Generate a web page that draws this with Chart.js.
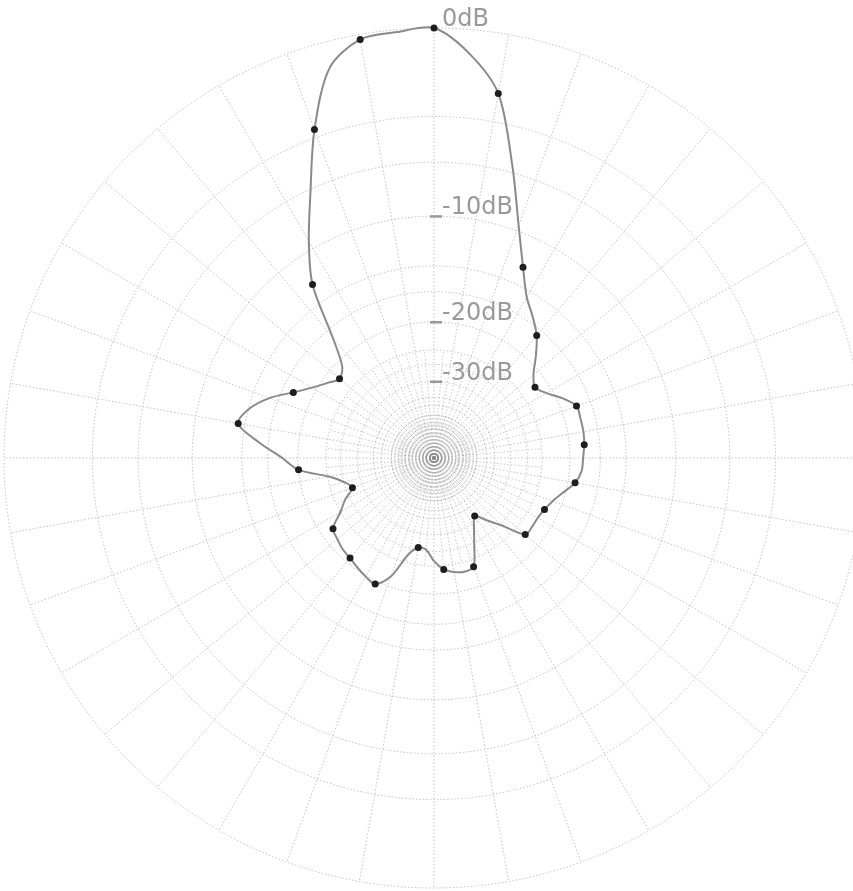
<!DOCTYPE html>
<html>
<head>
<meta charset="utf-8">
<script src="https://cdn.jsdelivr.net/npm/chart.js@4.4.1/dist/chart.umd.min.js"></script>
<style>
  html, body { margin: 0; padding: 0; background: #fff; overflow: hidden; }
  #wrap { width: 868px; height: 891px; }
</style>
</head>
<body>
<div id="wrap"><canvas id="pattern"></canvas></div>
<script>
// ── Data ────────────────────────────────────────────────────────────────────
// bearing of each sample, degrees clockwise from the top
const ANGLES = [
    0,   5,  10,  15,  20,  25,  30,  35,  40,  45,  50,  55,
   60,  65,  70,  75,  80,  85,  90,  95, 100, 105, 110, 115,
  120, 125, 130, 135, 140, 145, 150, 155, 160, 165, 170, 175,
  180, 185, 190, 195, 200, 205, 210, 215, 220, 225, 230, 235,
  240, 245, 250, 255, 260, 265, 270, 275, 280, 285, 290, 295,
  300, 305, 310, 315, 320, 325, 330, 335, 340, 345, 350, 355,
];

// relative level (dB) at each bearing
const LEVEL_DB = [
    0.0,  -1.0,  -2.6,  -6.1,  -9.6, -12.4, -14.6, -15.9, -17.2, -19.0, -20.8, -21.7,
  -20.8, -19.3, -18.1, -18.1, -18.1, -18.2, -18.4, -18.5, -19.1, -20.3, -21.3, -21.9,
  -22.2, -22.2, -22.3, -26.2, -29.0, -31.3, -29.2, -26.2, -22.8, -22.5, -22.8, -23.4,
  -24.8, -26.8, -27.0, -25.3, -21.3, -19.6, -19.9, -20.3, -20.7, -20.9, -21.3, -21.7,
  -24.0, -25.7, -27.8, -26.6, -24.2, -20.0, -18.1, -15.6, -13.4, -14.1, -15.6, -17.7,
  -19.4, -20.7, -21.7, -20.8, -17.4, -12.3,  -9.4,  -6.7,  -3.6,  -1.1,  -0.2,  -0.1,
];

// bearings where a measured point is inked on the trace
const MARKER_DEG = [0, 10, 25, 40, 55, 70, 85, 100, 115, 130, 145, 160, 175,
                    190, 205, 220, 235, 250, 265, 280, 295, 310, 325, 340, 350];

// grid rings and labelled rings (dB)
const RING_DB  = [0, -4, -6.5, -10, -14, -16.5, -20, -24, -26.5, -30, -34, -36.5, -40, -44, -46.5, -50];
const LABEL_DB = [0, -10, -20, -30];

// ── Style ───────────────────────────────────────────────────────────────────
const GRID_COLOR  = 'rgba(135,135,135,.55)';
const TRACE_COLOR = '#8a8a8a';
const LABEL_COLOR = '#9a9a9a';

// the paper uses a log radius: 10 dB shrinks the radius by 10^(1/4)
const toRadius = db => Math.pow(10, db / 40);

// ── Plugins ─────────────────────────────────────────────────────────────────
const innerSpokes = {
  id: 'innerSpokes',
  beforeDatasetsDraw(chart) {
    const s = chart.scales.r, ctx = chart.ctx;
    ctx.save();
    ctx.strokeStyle = GRID_COLOR;
    ctx.lineWidth = 0.8;
    ctx.setLineDash([1.5, 2]);
    // finer spokes only near the centre, like the printed paper
    [[5, -24], [2.5, -40]].forEach(([step, db]) => {
      const len = s.getDistanceFromCenterForValue(toRadius(db));
      for (let a = 0; a < 360; a += step) {
        if (a % 10 === 0) continue;
        const rad = (a - 90) * Math.PI / 180;
        ctx.beginPath();
        ctx.moveTo(s.xCenter, s.yCenter);
        ctx.lineTo(s.xCenter + Math.cos(rad) * len, s.yCenter + Math.sin(rad) * len);
        ctx.stroke();
      }
    });
    ctx.restore();
  },
};

const dbLabels = {
  id: 'dbLabels',
  afterDraw(chart) {
    const s = chart.scales.r, ctx = chart.ctx;
    ctx.save();
    ctx.font = '24px "DejaVu Sans"';
    ctx.fillStyle = LABEL_COLOR;
    ctx.textAlign = 'left';
    ctx.textBaseline = 'alphabetic';
    LABEL_DB.forEach(db => {
      const y = s.yCenter - s.getDistanceFromCenterForValue(toRadius(db));
      ctx.fillText(db + 'dB', s.xCenter + 8, y - 2);
      if (db !== 0) ctx.fillRect(s.xCenter - 4, y - 1, 12, 2.5);
    });
    ctx.restore();
  },
};

// ── Chart ───────────────────────────────────────────────────────────────────
new Chart(document.getElementById('pattern'), {
  type: 'radar',
  data: {
    labels: ANGLES.map(a => a + '°'),
    datasets: [{
      label: 'Pattern',
      data: LEVEL_DB.map(toRadius),
      borderColor: TRACE_COLOR,
      borderWidth: 2,
      fill: false,
      tension: 0.3,
      pointRadius: ctx => MARKER_DEG.includes(ANGLES[ctx.dataIndex]) ? 3.5 : 0,
      pointBackgroundColor: '#1e1e1e',
      pointBorderWidth: 0,
      pointHoverRadius: 0,
    }],
  },
  options: {
    responsive: true, maintainAspectRatio: false,
    animation: false,
    layout: { padding: { left: 4, right: 4, top: 28, bottom: 3 } },
    plugins: { legend: { display: false }, tooltip: { enabled: false } },
    scales: {
      r: {
        min: 0, max: 1,
        startAngle: 0,
        afterBuildTicks: scale => {
          scale.ticks = [{ value: 0 }, ...RING_DB.slice().reverse().map(d => ({ value: toRadius(d) }))];
        },
        ticks: { display: false },
        pointLabels: { display: false },
        grid: { circular: true, color: GRID_COLOR, lineWidth: 0.9 },
        border: { dash: [1.5, 2] },
        angleLines: {
          color: ctx => ctx.index % 2 ? 'transparent' : GRID_COLOR,
          lineWidth: 0.9,
          borderDash: [1.5, 2],
        },
      },
    },
  },
  plugins: [innerSpokes, dbLabels],
});
</script>
</body>
</html>
